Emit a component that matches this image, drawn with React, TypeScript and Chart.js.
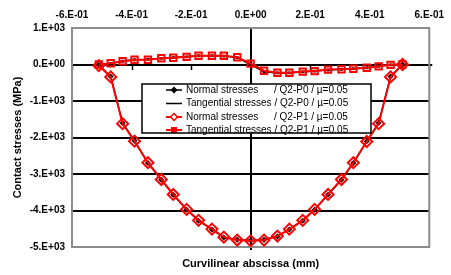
import React, { useEffect, useRef } from "react";
import { Chart, registerables } from "chart.js";

Chart.register(...registerables);

const xPositions = [-0.51, -0.47, -0.43, -0.39, -0.345, -0.3, -0.26, -0.215, -0.175, -0.13, -0.09, -0.045, 0, 0.045, 0.09, 0.13, 0.175, 0.215, 0.26, 0.305, 0.345, 0.39, 0.43, 0.47, 0.51];
const normalP0 = [-10, -330, -1600, -2090, -2700, -3160, -3570, -3980, -4280, -4520, -4740, -4800, -4820, -4800, -4710, -4520, -4280, -3980, -3570, -3160, -2700, -2100, -1600, -330, 0];
const tangentialP0 = [0, 30, 90, 130, 140, 170, 190, 210, 240, 240, 230, 190, 0, -200, -230, -230, -200, -180, -150, -130, -115, -90, -50, -10, 0];
const normalP1 = [-30, -340, -1620, -2100, -2690, -3150, -3560, -3970, -4270, -4510, -4730, -4810, -4830, -4810, -4700, -4510, -4270, -3970, -3560, -3150, -2690, -2110, -1620, -340, 0];
const tangentialP1 = [0, 35, 90, 130, 130, 170, 185, 210, 240, 240, 240, 200, 25, -170, -225, -225, -195, -180, -140, -130, -115, -90, -50, -10, 0];

const legendNames = ["Normal stresses", "Tangential stresses", "Normal stresses", "Tangential stresses"];
const legendCases = ["/ Q2-P0 / µ=0.05", "/ Q2-P0 / µ=0.05", "/ Q2-P1 / µ=0.05", "/ Q2-P1 / µ=0.05"];
const xTitle = "Curvilinear abscissa (mm)";
const yTitle = "Contact stresses (MPa)";

const FONT = "'Liberation Sans', Arial, sans-serif";

const formatSci = (v: number) => {
  if (Math.abs(v) < 1e-9) return "0.E+00";
  const e = Math.floor(Math.log10(Math.abs(v)) + 1e-9);
  const m = Math.round(v / Math.pow(10, e));
  return `${m}.E${e < 0 ? "-" : "+"}${String(Math.abs(e)).padStart(2, "0")}`;
};

const toPoints = (ys: number[]) => xPositions.map((x, i) => ({ x, y: ys[i] }));

const decorPlugin = {
  id: "decor",
  beforeDatasetsDraw(chart: any) {
    const { ctx, chartArea } = chart;
    const xs = chart.scales.x;
    const ys = chart.scales.y;
    ctx.save();
    ctx.strokeStyle = "#000";
    ctx.lineWidth = 2;
    const x0 = Math.round(xs.getPixelForValue(0));
    const y0 = Math.round(ys.getPixelForValue(0));
    ctx.beginPath();
    ctx.moveTo(x0, chartArea.top);
    ctx.lineTo(x0, chartArea.bottom + 3);
    ctx.stroke();
    ctx.beginPath();
    ctx.moveTo(chartArea.left, y0);
    ctx.lineTo(chartArea.right + 3, y0);
    ctx.stroke();
    ctx.lineWidth = 1.5;
    for (let v = -0.6; v <= 0.61; v += 0.2) {
      const px = Math.round(xs.getPixelForValue(v)) + 0.5;
      ctx.beginPath();
      ctx.moveTo(px, y0);
      ctx.lineTo(px, y0 + 5);
      ctx.stroke();
    }
    ctx.strokeStyle = "#8c8c8c";
    ctx.lineWidth = 2;
    ctx.strokeRect(chartArea.left, chartArea.top, chartArea.right - chartArea.left, chartArea.bottom - chartArea.top);
    ctx.restore();
  },
  afterDraw(chart: any) {
    const { ctx, chartArea } = chart;
    ctx.save();
    ctx.fillStyle = "#000";
    ctx.font = `bold 11px ${FONT}`;
    ctx.textAlign = "center";
    ctx.textBaseline = "middle";
    ctx.fillText(xTitle, (chartArea.left + chartArea.right) / 2, 264);
    ctx.save();
    ctx.translate(18, (chartArea.top + chartArea.bottom) / 2);
    ctx.rotate(-Math.PI / 2);
    ctx.fillText(yTitle, 0, 0);
    ctx.restore();

    const bx = 142, by = 84, bw = 229, bh = 49;
    ctx.fillStyle = "#fff";
    ctx.fillRect(bx, by, bw, bh);
    const rows = [90, 103.5, 117, 130];
    ctx.font = `10px ${FONT}`;
    ctx.textAlign = "left";
    for (let i = 0; i < 4; i++) {
      const yy = rows[i];
      const red = i >= 2;
      const col = red ? "#ff0000" : "#000";
      ctx.strokeStyle = col;
      ctx.lineWidth = red ? 2 : 1.5;
      ctx.beginPath();
      ctx.moveTo(166, yy);
      ctx.lineTo(182, yy);
      ctx.stroke();
      if (i === 0) {
        ctx.fillStyle = "#000";
        ctx.beginPath();
        ctx.moveTo(174, yy - 3.5);
        ctx.lineTo(177.5, yy);
        ctx.lineTo(174, yy + 3.5);
        ctx.lineTo(170.5, yy);
        ctx.closePath();
        ctx.fill();
      } else if (i === 2) {
        ctx.fillStyle = "#fff";
        ctx.lineWidth = 1.5;
        ctx.beginPath();
        ctx.moveTo(174, yy - 3.5);
        ctx.lineTo(177.5, yy);
        ctx.lineTo(174, yy + 3.5);
        ctx.lineTo(170.5, yy);
        ctx.closePath();
        ctx.fill();
        ctx.stroke();
      } else if (i === 3) {
        ctx.fillStyle = "#ff0000";
        ctx.fillRect(171, yy - 3, 6, 6);
      }
      ctx.fillStyle = "#000";
      if (i % 2 === 0) {
        ctx.fillText(legendNames[i], 186, yy);
        ctx.fillText(legendCases[i], 274, yy);
      } else {
        ctx.fillText(legendNames[i] + " " + legendCases[i], 186, yy);
      }
    }
    ctx.strokeStyle = "#000";
    ctx.lineWidth = 1.5;
    ctx.strokeRect(bx, by, bw, bh);
    ctx.restore();
  },
};

export default function App() {
  const ref = useRef<HTMLCanvasElement>(null);
  useEffect(() => {
    if (!ref.current) return;
    const chart = new Chart(ref.current, {
      type: "line",
      data: {
        datasets: [
          {
            label: "Normal stresses / Q2-P0 / µ=0.05",
            data: toPoints(normalP0),
            borderColor: "#000",
            backgroundColor: "#000",
            borderWidth: 1.5,
            pointStyle: "rectRot",
            pointRadius: 3,
            pointBorderWidth: 0,
            order: 3,
          },
          {
            label: "Tangential stresses / Q2-P0 / µ=0.05",
            data: toPoints(tangentialP0),
            borderColor: "#000",
            backgroundColor: "#000",
            borderWidth: 1.5,
            pointStyle: "rect",
            pointRadius: 2,
            pointBorderWidth: 0,
            order: 2,
          },
          {
            label: "Normal stresses / Q2-P1 / µ=0.05",
            data: toPoints(normalP1),
            borderColor: "#ff0000",
            backgroundColor: "rgba(0,0,0,0)",
            borderWidth: 2,
            pointStyle: "rectRot",
            pointRadius: 5.5,
            pointBorderWidth: 2,
            order: 1,
          },
          {
            label: "Tangential stresses / Q2-P1 / µ=0.05",
            data: toPoints(tangentialP1),
            borderColor: "#ff0000",
            backgroundColor: "rgba(0,0,0,0)",
            borderWidth: 2,
            pointStyle: "rect",
            pointRadius: 4.5,
            pointBorderWidth: 2,
            order: 0,
          },
        ],
      },
      options: {
        responsive: false,
        animation: false,
        layout: { padding: { left: 0, top: 0, right: 13, bottom: 28 } },
        plugins: { legend: { display: false }, tooltip: { enabled: false } },
        scales: {
          x: {
            type: "linear",
            position: "top",
            min: -0.6,
            max: 0.6,
            afterFit: (s: any) => { s.height = 28; },
            grid: { display: false, drawTicks: false },
            border: { display: false },
            ticks: {
              stepSize: 0.2,
              autoSkip: false,
              maxRotation: 0,
              padding: 7,
              color: "#000",
              font: { family: FONT, size: 10, weight: "bold" },
              callback: (v: any) => formatSci(Number(v)),
            },
          },
          y: {
            type: "linear",
            min: -5000,
            max: 1000,
            afterFit: (s: any) => { s.width = 72; },
            grid: {
              drawTicks: false,
              lineWidth: 2,
              color: (c: any) => {
                const v = c.tick ? c.tick.value : 0;
                return v > -4500 && v < 500 ? "#000" : "rgba(0,0,0,0)";
              },
            },
            border: { display: false },
            ticks: {
              stepSize: 1000,
              autoSkip: false,
              padding: 7,
              color: "#000",
              font: { family: FONT, size: 10, weight: "bold" },
              callback: (v: any) => formatSci(Number(v)),
            },
          },
        },
      },
      plugins: [decorPlugin],
    } as any);
    return () => chart.destroy();
  }, []);
  return (
    <div style={{ position: "fixed", left: 0, top: 0, width: 451, height: 275, background: "#fff" }}>
      <canvas ref={ref} width={451} height={275} style={{ display: "block" }} />
    </div>
  );
}
